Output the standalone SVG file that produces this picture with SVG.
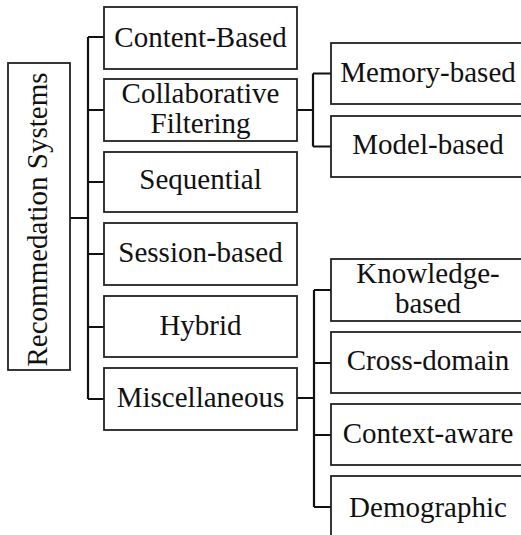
<svg xmlns="http://www.w3.org/2000/svg" width="521" height="535" viewBox="0 0 521 535">
<style>
.box{fill:#fff;stroke:#222;stroke-width:1.8}
.t{font-family:'Liberation Serif','Times New Roman',serif;font-size:29px;fill:#111;text-anchor:middle}
.c{fill:none;stroke:#111;stroke-width:2.2}
</style>
<rect width="521" height="535" fill="#fff"/>
<g id="connectors">
<path class="c" d="M70 218H88M88 37V399M88 37H104M88 110H104M88 182H104M88 254H104M88 327H104M88 399H104"/>
<path class="c" d="M297 110H313M313 73.5V146.5M313 73.5H331M313 146.5H331"/>
<path class="c" d="M297 398H314M314 290V507M314 290H331M314 363H331M314 435H331M314 507H331"/>
</g>
<g id="root"><rect class="box" x="8" y="63" width="62" height="307"/>
<text class="t" transform="translate(47 219.5) rotate(-90)">Recommedation Systems</text></g>
<g id="content"><rect class="box" x="104" y="7" width="193" height="62"/><text class="t" x="200.5" y="47">Content-Based</text></g>
<g id="collab"><rect class="box" x="104" y="79" width="193" height="62"/><text class="t" x="200.5" y="103">Collaborative</text><text class="t" x="200.5" y="133">Filtering</text></g>
<g id="sequential"><rect class="box" x="104" y="152" width="193" height="60"/><text class="t" x="200.5" y="189">Sequential</text></g>
<g id="session"><rect class="box" x="104" y="223" width="193" height="62"/><text class="t" x="200.5" y="262">Session-based</text></g>
<g id="hybrid"><rect class="box" x="104" y="296" width="193" height="61"/><text class="t" x="200.5" y="335">Hybrid</text></g>
<g id="misc"><rect class="box" x="104" y="368" width="193" height="62"/><text class="t" x="200.5" y="407">Miscellaneous</text></g>
<g id="memory"><rect class="box" x="331" y="43" width="194" height="61"/><text class="t" x="428" y="82">Memory-based</text></g>
<g id="model"><rect class="box" x="331" y="116" width="194" height="61"/><text class="t" x="428" y="154">Model-based</text></g>
<g id="knowledge"><rect class="box" x="331" y="259" width="194" height="62"/><text class="t" x="428" y="283">Knowledge-</text><text class="t" x="428" y="313">based</text></g>
<g id="cross"><rect class="box" x="331" y="332" width="194" height="61"/><text class="t" x="428" y="370">Cross-domain</text></g>
<g id="context"><rect class="box" x="331" y="404" width="194" height="61"/><text class="t" x="428" y="443">Context-aware</text></g>
<g id="demographic"><rect class="box" x="331" y="476" width="194" height="62"/><text class="t" x="428" y="517">Demographic</text></g>
</svg>
